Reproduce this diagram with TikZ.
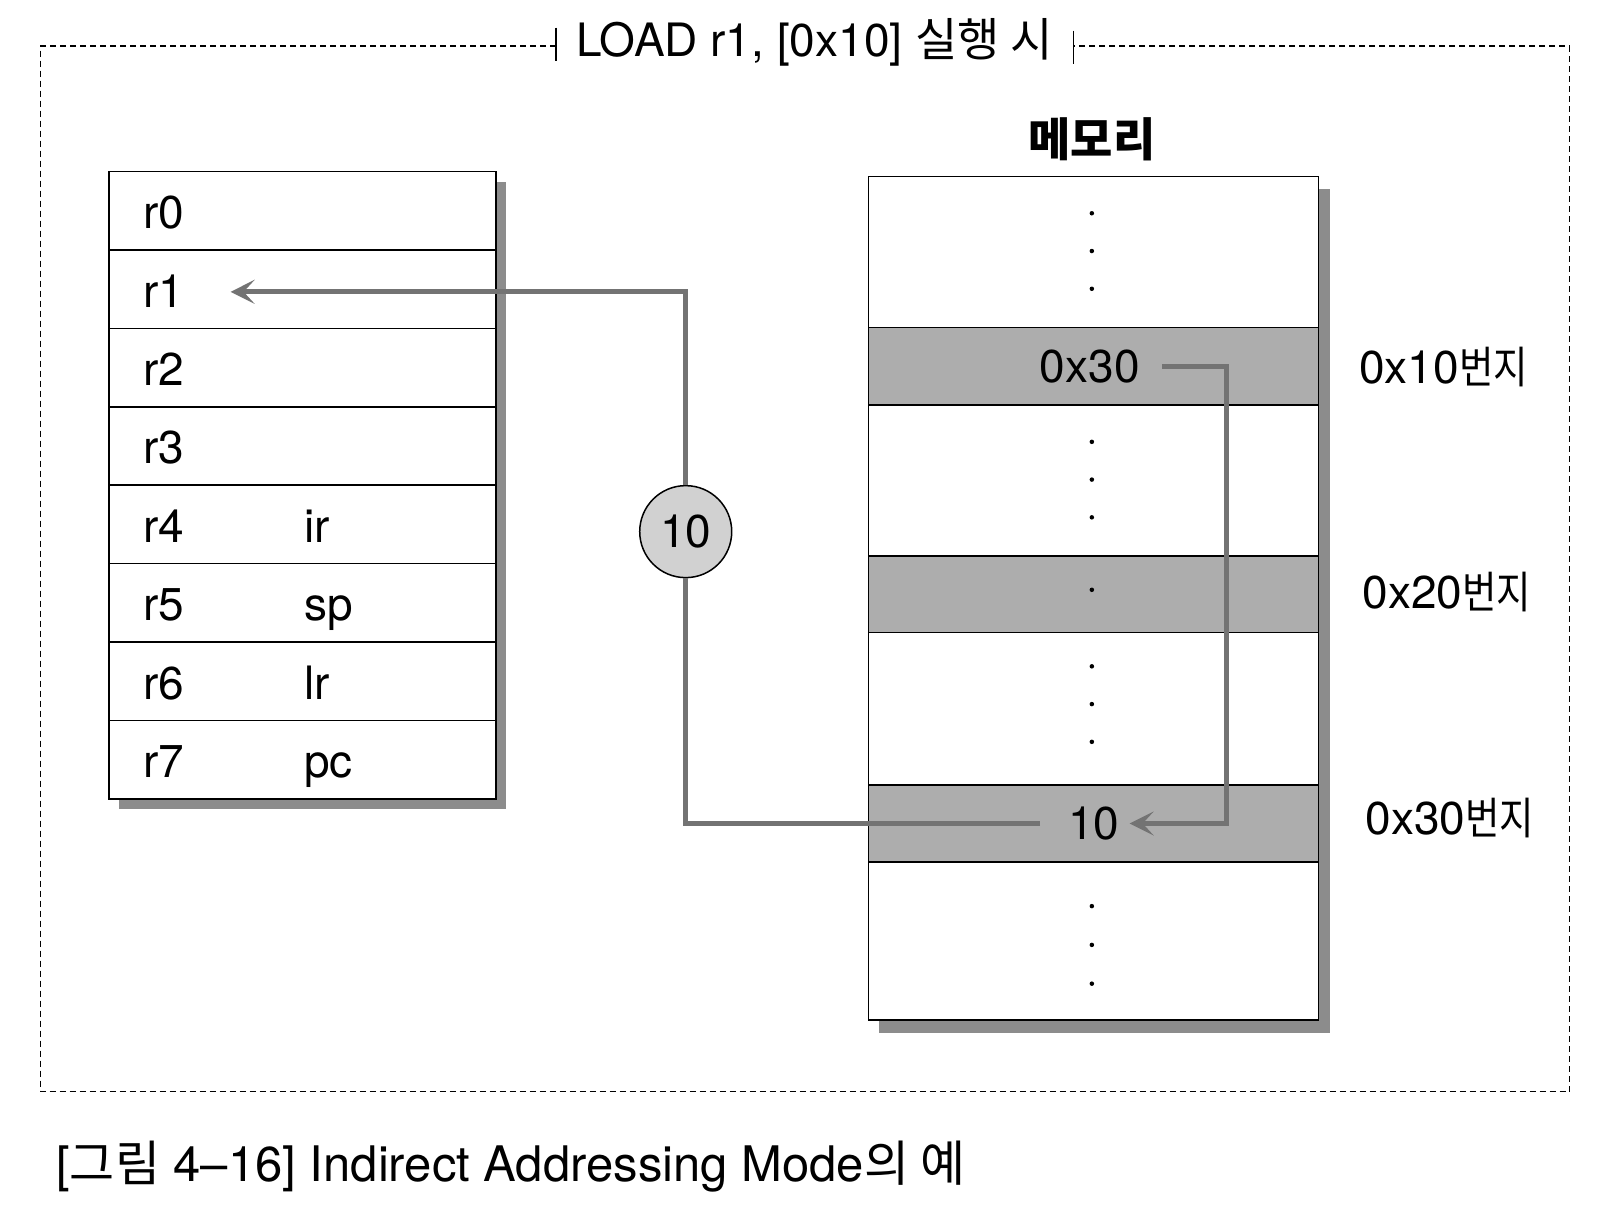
\documentclass[tikz,border=0pt]{standalone}
\usepackage{fontspec}
\setmainfont{TeX Gyre Heros}
\newfontfamily\kr{Noto Sans CJK KR}
\newfontfamily\krn{Noto Sans CJK KR}[FakeStretch=0.85]
\usetikzlibrary{arrows.meta}
\begin{document}
\begin{tikzpicture}[x=1.0204pt,y=-1.0204pt,
  frame/.style={line width=1.3pt, dash pattern=on 6pt off 4pt},
  shadowfill/.style={fill=black!45},
  regrow/.style={draw=black, fill=white, line width=1.6pt, rectangle, anchor=north west, inner sep=0pt, outer sep=0pt, minimum width=387pt, minimum height=78.45pt},
  memwhite/.style={draw=black, fill=white, line width=1.6pt, rectangle, anchor=north west, inner sep=0pt, outer sep=0pt, minimum width=450pt},
  memgray/.style={memwhite, fill=black!32},
  lbl/.style={font=\fontsize{46}{50}\selectfont, inner sep=0pt},
  addr/.style={font=\fontsize{46}{50}\selectfont, inner sep=0pt, anchor=west},
  dotm/.style={circle, fill=black, inner sep=0pt, minimum size=4.5pt},
  conn/.style={draw=black!55, line width=5pt},
  tip/.style={-{Stealth[length=24pt,width=24pt,inset=11pt]}},
]
\useasboundingbox (0,0) rectangle (1568,1187.8);
\fill[white] (0,0) rectangle (1568,1187.8);

% outer frame
\draw[frame] (545,45) -- (40,45) -- (40,1070) -- (1538,1070) -- (1538,45) -- (1052,45);
\draw[line width=1.6pt] (545,27) -- (545,60);
\draw[line width=1.6pt] (1052,30) -- (1052,63);
\node[font=\fontsize{46}{50}\selectfont, inner sep=0pt] (title) at (798,42) {LOAD r1, [0x10] {\kr 실행 시}};

% registers
\fill[shadowfill] (117,178) rectangle (496,793);
\foreach \i/\n in {0/r0,1/r1,2/r2,3/r3,4/r4,5/r5,6/r6,7/r7}{
  \node[regrow] (reg\i) at (107,{168+76.875*\i}) {};
  \node[lbl, anchor=base west] (\n t) at (140,{168+76.875*\i+56}) {\n};
}
\node[lbl, anchor=base west] (irt) at (298,{168+76.875*4+56}) {ir};
\node[lbl, anchor=base west] (spt) at (298,{168+76.875*5+56}) {sp};
\node[lbl, anchor=base west] (lrt) at (298,{168+76.875*6+56}) {lr};
\node[lbl, anchor=base west] (pct) at (298,{168+76.875*7+56}) {pc};

% memory
\node[font=\kr\bfseries\fontsize{46}{50}\selectfont, inner sep=0pt] (memt) at (1070,137) {메모리};
\fill[shadowfill] (861,185) rectangle (1303,1012);
\node[memwhite, minimum height=151pt] (m0) at (851,173) {};
\node[memgray,  minimum height=77.5pt]  (m1) at (851,321) {};
\node[memwhite, minimum height=151pt] (m2) at (851,397) {};
\node[memgray,  minimum height=76.5pt]  (m3) at (851,545) {};
\node[memwhite, minimum height=152pt] (m4) at (851,620) {};
\node[memgray,  minimum height=77.5pt]  (m5) at (851,769) {};
\node[memwhite, minimum height=158pt] (m6) at (851,845) {};

\foreach \y [count=\k] in {209,246,283,433,470,507,578,653,690,727,888,926,964}{
  \node[dotm] (d\k) at (1070,\y) {};
}

\node[lbl] (v30) at (1068,359) {0x30};
\node[lbl] (v10) at (1072,807) {10};

\node[addr] (a10) at (1332,360) {0x10{\krn\fontsize{44}{48}\selectfont 번지}};
\node[addr] (a20) at (1335,580) {0x20{\krn\fontsize{44}{48}\selectfont 번지}};
\node[addr] (a30) at (1338,802) {0x30{\krn\fontsize{44}{48}\selectfont 번지}};

% circle value
\node[circle, draw=black, line width=1.5pt, fill=black!18, minimum size=92pt, inner sep=0pt, font=\fontsize{46}{50}\selectfont] (circ) at (672,521) {10};

% connectors
\coordinate (c1) at (1202,359);
\coordinate (c2) at (672,807);
\coordinate (r1end) at (226,286);
\draw[conn, tip] ([xshift=22pt]v30.east) -- (c1) |- ([xshift=10pt]v10.east);
\draw[conn] ([xshift=-28pt]v10.west) -- (c2) -- (circ.south);
\draw[conn, tip] (circ.north) |- (r1end);

% caption
\node[anchor=west, inner sep=0pt, font=\fontsize{49}{53}\selectfont] (cap) at (55,1143) {[{\kr 그림} 4–16] Indirect Addressing Mode{\kr 의 예}};
\end{tikzpicture}
\end{document}
